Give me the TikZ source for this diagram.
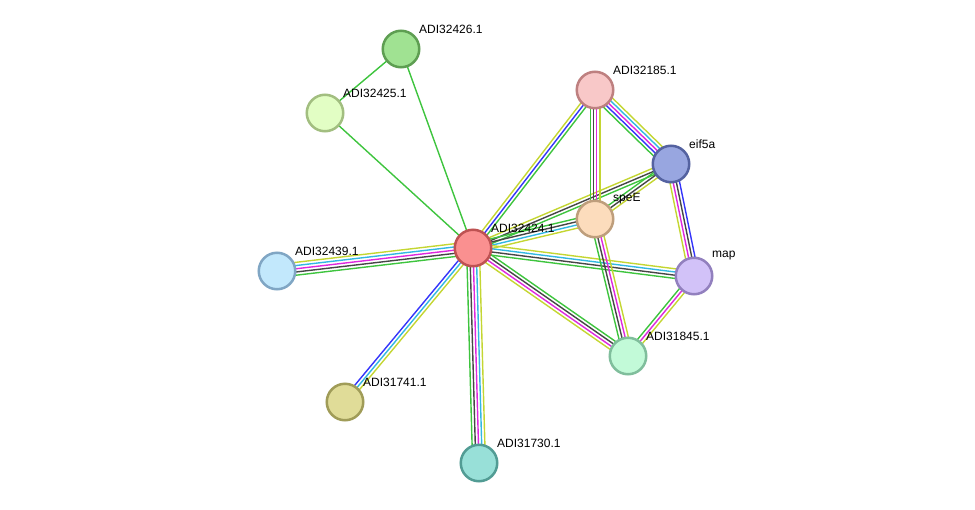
\documentclass[tikz,border=0pt]{standalone}
\usepackage{fontspec}
\setmainfont{Liberation Sans}
\usetikzlibrary{calc, backgrounds}

\definecolor{cnbr}{RGB}{62,196,62}
\definecolor{cocc}{RGB}{52,52,250}
\definecolor{cexp}{RGB}{70,70,70}
\definecolor{cexpt}{RGB}{222,40,222}
\definecolor{cdb}{RGB}{50,184,226}
\definecolor{ctxt}{RGB}{196,214,50}

% bundle of coloured links between two proteins
\newcommand\bundle[3]{%
  \foreach \c [count=\n] in {#3} {\xdef\nlines{\n}}%
  \foreach \c [count=\i] in {#3} {%
    \pgfmathsetmacro\off{(\i-(\nlines+1)/2)*3.2}%
    \draw[link, \c] ($(#1.center)!\off pt!90:(#2.center)$) -- ($(#2.center)!\off pt!-90:(#1.center)$);
  }}

\begin{document}
\begin{tikzpicture}[x=1pt, y=-1pt,
		prot/.style={circle, line width=2.5pt, minimum size=36.5pt, inner sep=0pt},
		lbl/.style={anchor=west, inner sep=0pt, font=\fontsize{12}{14}\selectfont},
		link/.style={line width=1.4pt}]
	\useasboundingbox (0,0) rectangle (975,509);
	
	% Proteins
	\node[prot, fill={rgb,255:red,160;green,226;blue,146}, draw={rgb,255:red,94;green,158;blue,82}] (p426) at (401,49) {};
	\node[prot, fill={rgb,255:red,226;green,254;blue,196}, draw={rgb,255:red,162;green,190;blue,128}] (p425) at (325,113) {};
	\node[prot, fill={rgb,255:red,248;green,200;blue,200}, draw={rgb,255:red,190;green,128;blue,128}] (p185) at (595,90) {};
	\node[prot, fill={rgb,255:red,152;green,166;blue,224}, draw={rgb,255:red,84;green,98;blue,160}] (eif5a) at (671,164) {};
	\node[prot, fill={rgb,255:red,252;green,220;blue,188}, draw={rgb,255:red,190;green,158;blue,124}] (speE) at (595,219) {};
	\node[prot, fill={rgb,255:red,250;green,144;blue,144}, draw={rgb,255:red,190;green,82;blue,82}] (p424) at (473,248) {};
	\node[prot, fill={rgb,255:red,194;green,232;blue,252}, draw={rgb,255:red,128;green,166;blue,196}] (p439) at (277,271) {};
	\node[prot, fill={rgb,255:red,210;green,194;blue,248}, draw={rgb,255:red,146;green,128;blue,190}] (map) at (694,276) {};
	\node[prot, fill={rgb,255:red,194;green,250;blue,216}, draw={rgb,255:red,128;green,190;blue,156}] (p845) at (628,356) {};
	\node[prot, fill={rgb,255:red,224;green,220;blue,152}, draw={rgb,255:red,160;green,156;blue,88}] (p741) at (345,402) {};
	\node[prot, fill={rgb,255:red,152;green,224;blue,216}, draw={rgb,255:red,82;green,156;blue,148}] (p730) at (479,463) {};
	
	% Labels
	\node[lbl] (l426) at ($(p426)+(18,-20)$) {ADI32426.1};
	\node[lbl] (l425) at ($(p425)+(18,-20)$) {ADI32425.1};
	\node[lbl] (l185) at ($(p185)+(18,-20)$) {ADI32185.1};
	\node[lbl] (leif) at ($(eif5a)+(18,-20)$) {eif5a};
	\node[lbl] (lspe) at ($(speE)+(18,-20)$) {speE};
	\node[lbl] (l424) at ($(p424)+(18,-20)$) {ADI32424.1};
	\node[lbl] (l439) at ($(p439)+(18,-20)$) {ADI32439.1};
	\node[lbl] (lmap) at ($(map)+(18,-20)$) {map};
	\node[lbl] (l845) at ($(p845)+(18,-20)$) {ADI31845.1};
	\node[lbl] (l741) at ($(p741)+(18,-20)$) {ADI31741.1};
	\node[lbl] (l730) at ($(p730)+(18,-20)$) {ADI31730.1};
	
	% Links
	\begin{scope}[on background layer]
		\bundle{p426}{p425}{cnbr}
		\bundle{p426}{p424}{cnbr}
		\bundle{p425}{p424}{cnbr}
		\bundle{p439}{p424}{cnbr,cexp,cexpt,cdb,ctxt}
		\bundle{p741}{p424}{ctxt,cdb,cocc}
		\bundle{p424}{p730}{cnbr,cexp,cexpt,cdb,ctxt}
		\bundle{p424}{p185}{cnbr,cocc,ctxt}
		\bundle{p424}{eif5a}{cnbr,cexp,ctxt}
		\bundle{p424}{speE}{ctxt,cdb,cexp,cnbr}
		\bundle{p424}{map}{cnbr,cexp,cdb,ctxt}
		\bundle{p424}{p845}{ctxt,cexpt,cexp,cnbr}
		\bundle{p185}{eif5a}{cnbr,cocc,cexpt,cdb,ctxt}
		\bundle{p185}{speE}{cnbr,cexp,cexpt,ctxt}
		\bundle{eif5a}{speE}{cnbr,cexp,ctxt}
		\bundle{eif5a}{map}{ctxt,cexpt,cexp,cocc}
		\bundle{speE}{p845}{cnbr,cexp,cexpt,ctxt}
		\bundle{map}{p845}{cnbr,cexpt,ctxt}
	\end{scope}
\end{tikzpicture}
\end{document}
